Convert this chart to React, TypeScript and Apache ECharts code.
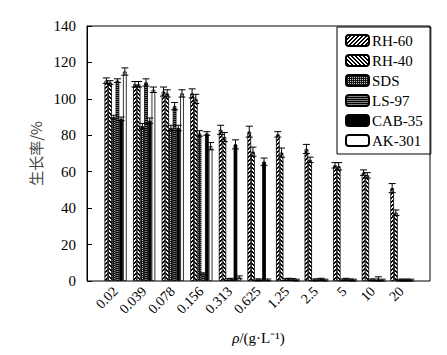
import React, { useEffect, useRef } from "react";
import * as echarts from "echarts";

const categories = ["0.02", "0.039", "0.078", "0.156", "0.313", "0.625", "1.25", "2.5", "5", "10", "20"];
const seriesNames = ["RH-60", "RH-40", "SDS", "LS-97", "CAB-35", "AK-301"];

const rh60 = [110, 108, 104, 103, 83, 82, 80.5, 72.5, 63.5, 59.5, 51];
const rh40 = [109, 108, 103, 100, 79, 71, 70.5, 66.5, 63, 58, 37.5];
const sds = [90, 85, 84, 81, 0.8, 0.6, 0.8, 0.6, 0.6, 0.6, 0.5];
const ls97 = [110, 109, 96, 4, 1, 0.6, 1, 0.6, 1, 0.6, 0.5];
const cab35 = [89, 88, 84, 81, 75, 65.5, 0.8, 1, 0.6, 0.8, 0.5];
const ak301 = [115, 105, 103, 74, 2, 0.6, 0.5, 0.5, 0.5, 0.5, 0.5];

const rh60Err = [1.5, 1.5, 2.5, 2.5, 2.5, 3, 1.5, 2.5, 1.5, 1.5, 2.5];
const rh40Err = [1, 1.5, 2, 2.5, 2.5, 2.5, 2.5, 1.5, 2, 1.5, 1.5];
const sdsErr = [1, 1.5, 1.5, 1.5, 0.5, 0.5, 0.5, 0.5, 0.5, 0.5, 0.5];
const ls97Err = [1, 2, 2, 0.5, 0.5, 0.5, 0.5, 0.5, 0.5, 0.5, 0.5];
const cab35Err = [1, 1.5, 1.5, 1, 2.5, 2, 0.5, 0.5, 0.5, 1.5, 0.5];
const ak301Err = [2, 1.5, 2, 2, 0.8, 0.5, 0.5, 0.5, 0.5, 0.5, 0.5];

const yTicks = [0, 20, 40, 60, 80, 100, 120, 140];

const allValues = [rh60, rh40, sds, ls97, cab35, ak301];
const allErrors = [rh60Err, rh40Err, sdsErr, ls97Err, cab35Err, ak301Err];

function makePattern(size: number, fn: (x: number, y: number) => number[]) {
  const c = document.createElement("canvas");
  c.width = size;
  c.height = size;
  const ctx = c.getContext("2d")!;
  const img = ctx.createImageData(size, size);
  for (let y = 0; y < size; y++) {
    for (let x = 0; x < size; x++) {
      const [r, g, b] = fn(x, y);
      const i = (y * size + x) * 4;
      img.data[i] = r;
      img.data[i + 1] = g;
      img.data[i + 2] = b;
      img.data[i + 3] = 255;
    }
  }
  ctx.putImageData(img, 0, 0);
  return c;
}

const BLACK = [0, 0, 0];
const WHITE = [255, 255, 255];

export default function App() {
  const ref = useRef<HTMLDivElement>(null);
  useEffect(() => {
    if (!ref.current) return;
    const chart = echarts.init(ref.current, null, { renderer: "svg" });

    const fills: any[] = [
      { image: makePattern(4, (x, y) => ((x + y) % 4 < 2 ? BLACK : WHITE)), repeat: "repeat" },
      { image: makePattern(4, (x, y) => ((x - y + 8) % 4 < 2 ? BLACK : WHITE)), repeat: "repeat" },
      { image: makePattern(2, (x, y) => (x === 0 && y === 0 ? [200, 200, 200] : [20, 20, 20])), repeat: "repeat" },
      { image: makePattern(2, (x, y) => (y === 0 ? BLACK : [130, 130, 130])), repeat: "repeat" },
      "#000",
      "#fff",
    ];

    const axisCats = ["", ...categories, ""];
    const BW = 3.7;
    const serif = "'Liberation Serif', 'Times New Roman', serif";

    const barSeries = seriesNames.map((name, si) => ({
      name,
      type: "bar",
      barWidth: BW,
      barGap: "0%",
      data: ["-", ...allValues[si], "-"],
      itemStyle: { color: fills[si], borderColor: "#000", borderWidth: 0.8 },
      emphasis: { disabled: true },
      z: 2,
    }));

    const errSeries = seriesNames.map((name, si) => ({
      name: "err-" + name,
      type: "custom",
      z: 5,
      data: allValues[si].map((v, k) => [k + 1, v, allErrors[si][k]]),
      renderItem: (params: any, api: any) => {
        const cat = api.value(0);
        const v = api.value(1);
        const e = api.value(2);
        const top = api.coord([cat, v + e]);
        const bot = api.coord([cat, Math.max(0, v - e)]);
        const x = top[0] + (si - 2.5) * BW;
        const cap = 3.5;
        return {
          type: "group",
          children: [
            { type: "line", shape: { x1: x, y1: top[1], x2: x, y2: bot[1] }, style: { stroke: "#000", lineWidth: 1 } },
            { type: "line", shape: { x1: x - cap, y1: top[1], x2: x + cap, y2: top[1] }, style: { stroke: "#000", lineWidth: 1 } },
            { type: "line", shape: { x1: x - cap, y1: bot[1], x2: x + cap, y2: bot[1] }, style: { stroke: "#000", lineWidth: 1 } },
          ],
        };
      },
    }));

    chart.setOption({
      animation: false,
      grid: { left: 87, right: 17, top: 26, bottom: 74, show: true, borderColor: "#000", borderWidth: 1 },
      legend: {
        data: seriesNames,
        orient: "vertical",
        left: 337,
        top: 27,
        itemWidth: 23,
        itemHeight: 11,
        itemGap: 5,
        padding: [6, 8, 6, 8],
        borderColor: "#000",
        borderWidth: 1,
        textStyle: { fontFamily: serif, fontSize: 15, color: "#000", padding: [0, 0, 0, -2] },
        selectedMode: false,
      },
      xAxis: {
        type: "category",
        data: axisCats,
        boundaryGap: false,
        axisLine: { show: false },
        axisTick: { show: false },
        axisLabel: { rotate: 45, interval: 0, fontFamily: serif, fontSize: 14, color: "#000", margin: 8 },
        name: "{i|ρ}/(g·L⁻¹)",
        nameLocation: "middle",
        nameGap: 49,
        nameTextStyle: {
          fontFamily: serif,
          fontSize: 15,
          color: "#000",
          rich: { i: { fontFamily: serif, fontStyle: "italic", fontSize: 15, color: "#000" } },
        },
      },
      yAxis: {
        type: "value",
        min: yTicks[0],
        max: yTicks[yTicks.length - 1],
        interval: 20,
        splitLine: { show: false },
        axisLine: { show: true, lineStyle: { color: "#000" } },
        axisTick: { show: true, inside: true, length: 5, lineStyle: { color: "#000" } },
        axisLabel: { fontFamily: serif, fontSize: 15, color: "#000", margin: 11 },
        name: "生长率/%",
        nameLocation: "middle",
        nameGap: 44,
        nameTextStyle: { fontFamily: "'Noto Sans CJK SC', sans-serif", fontSize: 15, color: "#444" },
      },
      series: [...barSeries, ...errSeries],
    });
    return () => chart.dispose();
  }, []);
  return <div ref={ref} style={{ width: 447, height: 355, position: "absolute", left: 0, top: 0 }} />;
}
